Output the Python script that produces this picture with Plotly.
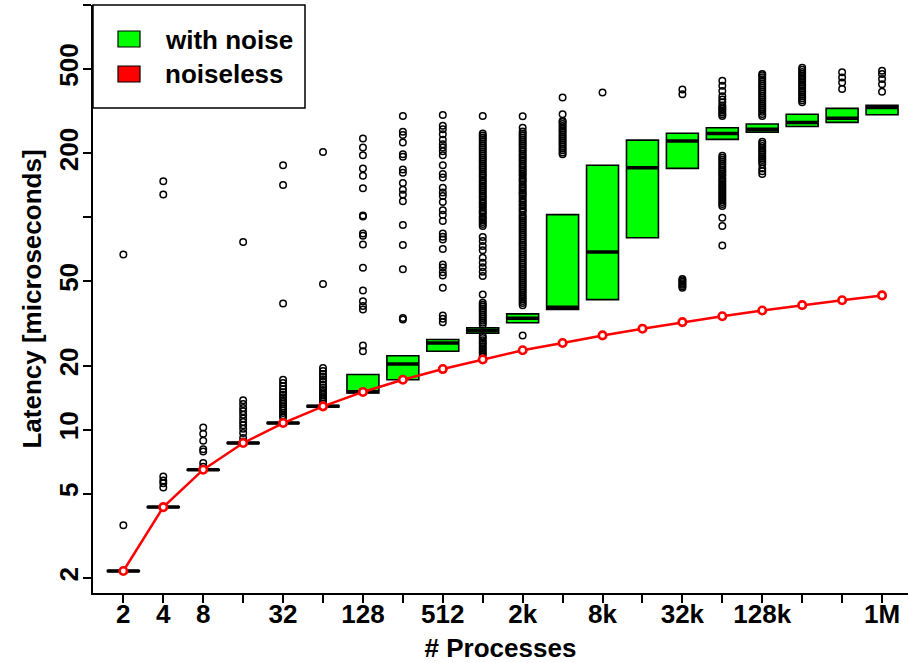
import plotly.graph_objects as go

# Process counts (one box per power of two, 2 .. 1M)
procs = ["2", "4", "8", "16", "32", "64", "128", "256", "512", "1k", "2k", "4k",
         "8k", "16k", "32k", "64k", "128k", "256k", "512k", "1M"]
shown_ticks = ["2", "4", "8", "32", "128", "512", "2k", "8k", "32k", "128k", "1M"]

# Box statistics of the latency with noise [microseconds]
q1 = [2.15, 4.30, 6.45, 8.62, 10.70, 12.80, 14.9, 17.2, 23.4, 28.5, 31.9, 36.8,
      41.0, 80.2, 170, 233, 252, 268, 280, 304]
median = [2.16, 4.32, 6.48, 8.66, 10.75, 12.90, 15.1, 20.4, 25.6, 29.4, 33.5, 37.7,
          68.6, 171, 229, 248, 260, 280, 293, 329]
q3 = [2.17, 4.34, 6.50, 8.70, 10.80, 13.00, 18.2, 22.3, 26.6, 30.2, 35.1, 103,
      176, 231, 249, 264, 275, 306, 326, 337]

# Latency without noise
noiseless = [2.16, 4.32, 6.48, 8.66, 10.75, 12.88, 15.06, 17.2, 19.3, 21.4, 23.66,
             25.6, 27.8, 29.9, 32.1, 34.2, 36.4, 38.6, 40.7, 42.9]

# Outliers of each box
out_2 = [3.55, 66.9]
out_4 = [5.35, 5.6, 5.76, 6.02, 128, 148]
out_8 = [6.69, 6.97, 7.9, 8.1, 8.87, 9.57, 10.25]
out_16 = [8.81, 9.14, 9.65, 10.1, 10.5, 10.87, 11.3, 11.77, 12.2, 12.66, 13.2, 13.75, 76.5]
out_32 = [11.4, 11.7, 12.0, 12.3, 12.6, 12.9, 13.2, 13.5, 13.8, 14.2, 14.6, 15.0,
          15.5, 16.0, 16.6, 17.2, 39.3, 142, 176]
out_64 = [13.3, 13.6, 13.9, 14.2, 14.6, 15.0, 15.4, 15.8, 16.3, 16.8, 17.3, 17.8,
          18.3, 18.9, 19.5, 48.5, 203]
out_128 = [23.4, 24.9, 36.8, 38.2, 40.3, 45.3, 57.9, 74.6, 82, 84, 101, 102, 137,
           157, 170, 196, 213, 235]
out_256 = [33, 33.6, 56.9, 74, 92, 119, 128, 135, 145, 162, 168, 193, 198, 225,
           244, 253, 300]
out_512 = [32.1, 33.3, 34.5, 46.6, 53.3, 55.2, 58, 60, 71, 78.7, 81, 84, 96, 103,
           108, 118, 126, 131, 138, 154, 160, 176, 196, 205, 213, 221, 232, 246,
           260, 270, 303]
out_1k = [22.2, 22.7, 23.2, 23.7, 24.2, 24.7, 25.3, 25.8, 26.4, 27.0, 27.6,
          31.2, 31.9, 32.6, 33.3, 34.0, 34.8, 35.6, 36.4, 37.2, 38.0, 38.8, 39.6,
          43.3, 52.9, 55.5, 58.2, 61.2, 64.6, 70.0, 73.3, 77.4, 80.8,
          91, 93, 95, 97.1, 99.2, 101, 104, 106, 108, 111, 113, 116, 118, 121,
          124, 126, 129, 132, 135, 138, 141, 144, 147, 150, 154, 157, 160, 164,
          168, 171, 175, 179, 183, 187, 191, 195, 200, 204, 209, 213, 218, 223,
          228, 233, 238, 243, 248, 300]
out_2k = [27.8, 38.6, 39.5, 40.4, 41.3, 42.2, 43.1, 44.1, 45.1, 46.1, 47.1, 48.1,
          49.2, 50.3, 51.4, 52.5, 53.7, 54.9, 56.1, 57.3, 58.6, 59.9, 61.2, 62.6,
          64.0, 65.4, 66.8, 68.3, 69.8, 71.4, 73.0, 74.6, 76.2, 77.9, 79.6, 81.4,
          83.2, 85.0, 86.9, 88.8, 90.8, 92.8, 94.8, 96.9, 99.0, 101, 103, 106, 108,
          110, 113, 115, 118, 120, 123, 126, 129, 131, 134, 137, 140, 143, 147,
          150, 153, 157, 160, 164, 167, 171, 175, 179, 183, 187, 191, 195, 199,
          204, 208, 213, 218, 222, 227, 232, 238, 243, 248, 254, 264, 299]
out_4k = [198, 202, 207, 211, 216, 221, 226, 231, 236, 241, 246, 252, 257, 263,
          269, 275, 281, 284, 306, 367]
out_8k = [387]
out_16k = []
out_32k = [46.6, 47.4, 48.2, 49.0, 49.8, 50.6, 51.2, 380, 400]
out_64k = [73.6, 91, 99.7, 113, 115.5, 118, 120.6, 123.3, 126, 128.8, 131.6, 134.5,
           137.5, 140.5, 143.6, 146.8, 150, 153, 157, 160, 164, 167, 171, 175, 179,
           183, 187, 191, 195, 300, 306, 312, 318, 324, 330, 336, 348, 359, 372,
           394, 417, 440]
out_128k = [160, 165, 170, 178, 182, 186, 190, 194, 198, 203, 207, 212, 217, 222,
            227, 300, 307, 314, 321, 328, 335, 343, 350, 358, 366, 374, 383, 391,
            400, 409, 418, 427, 437, 447, 457, 467, 473]
out_256k = [348, 356, 364, 372, 380, 389, 397, 406, 415, 424, 434, 443, 453, 463,
            474, 484, 495, 506]
out_512k = [402, 432, 456, 482]
out_1M = [390, 424, 448, 473, 490]

outliers = [out_2, out_4, out_8, out_16, out_32, out_64, out_128, out_256, out_512,
            out_1k, out_2k, out_4k, out_8k, out_16k, out_32k, out_64k, out_128k,
            out_256k, out_512k, out_1M]

y_tickvals = [2, 5, 10, 20, 50, 100, 200, 500, 1000]
y_ticktext = ["2", "5", "10", "20", "50", "", "200", "500", ""]

BOX_WIDTH = 0.8
pos = list(range(1, len(procs) + 1))

font_main = dict(family="Liberation Sans", size=26, color="black", weight="bold")

fig = go.Figure()

# Boxes (whiskers collapsed onto the box edges)
fig.add_trace(go.Box(
    x=pos, q1=q1, median=median, q3=q3, lowerfence=q1, upperfence=q3,
    width=BOX_WIDTH, whiskerwidth=0, fillcolor="#00ff00",
    line=dict(color="black", width=1.6), boxpoints=False,
    hoverinfo="skip", showlegend=False,
))

# Outlier circles
ox, oy = [], []
for p, vals in zip(pos, outliers):
    ox.extend([p] * len(vals))
    oy.extend(vals)
fig.add_trace(go.Scatter(
    x=ox, y=oy, mode="markers",
    marker=dict(symbol="circle-open", size=6.5, color="black", line=dict(width=1.5)),
    hoverinfo="skip", showlegend=False,
))

# Thick median bars
mx, my = [], []
for p, m in zip(pos, median):
    mx += [p - BOX_WIDTH / 2, p + BOX_WIDTH / 2, None]
    my += [m, m, None]
fig.add_trace(go.Scatter(
    x=mx, y=my, mode="lines", line=dict(color="black", width=3.5),
    hoverinfo="skip", showlegend=False,
))

# Noiseless latency curve
fig.add_trace(go.Scatter(
    x=pos, y=noiseless, mode="lines+markers",
    line=dict(color="red", width=2.5),
    marker=dict(symbol="circle", size=7.5, color="white", line=dict(color="red", width=2.6)),
    hoverinfo="skip", showlegend=False,
))

# Legend box
W, H, L, T, B = 908, 663, 93, 5, 70
pw, ph = W - L, H - T - B


def px(x):
    return (x - L) / pw


def py(y):
    return (H - B - y) / ph


shapes = [
    dict(type="rect", xref="paper", yref="paper", x0=px(93), x1=px(305), y0=py(108), y1=py(5),
         line=dict(color="black", width=1.5), fillcolor="white", layer="above"),
    dict(type="rect", xref="paper", yref="paper", x0=px(118), x1=px(140), y0=py(47), y1=py(31),
         line=dict(color="black", width=1.2), fillcolor="#00ff00", layer="above"),
    dict(type="rect", xref="paper", yref="paper", x0=px(118), x1=px(140), y0=py(82), y1=py(66),
         line=dict(color="black", width=1.2), fillcolor="#ff0000", layer="above"),
]
annotations = [
    dict(text="with noise", xref="paper", yref="paper", x=px(163), y=py(40),
         xanchor="left", yanchor="middle", showarrow=False, font=font_main),
    dict(text="noiseless", xref="paper", yref="paper", x=px(163), y=py(74),
         xanchor="left", yanchor="middle", showarrow=False, font=font_main),
]

fig.update_layout(
    width=W, height=H,
    margin=dict(l=L, r=0, t=T, b=B),
    paper_bgcolor="white", plot_bgcolor="white",
    font=font_main,
    shapes=shapes, annotations=annotations,
    showlegend=False,
    xaxis=dict(
        range=[0.24, 20.65], showgrid=False, zeroline=False,
        showline=True, linecolor="black", linewidth=2,
        ticks="outside", ticklen=8, tickwidth=1.5, tickcolor="black",
        tickvals=pos, ticktext=[p if p in shown_ticks else "" for p in procs],
        tickfont=font_main, ticklabelstandoff=-11,
        title=dict(text="# Processes", font=font_main, standoff=16),
    ),
    yaxis=dict(
        type="log", range=[0.2310, 3.0], showgrid=False, zeroline=False,
        showline=True, linecolor="black", linewidth=2,
        ticks="outside", ticklen=8, tickwidth=1.5, tickcolor="black",
        tickvals=y_tickvals, ticktext=y_ticktext, tickangle=-90,
        tickfont=font_main, ticklabelstandoff=-5,
        title=dict(text="Latency [microseconds]", font=font_main, standoff=4),
    ),
)

fig.write_html("out.html")
